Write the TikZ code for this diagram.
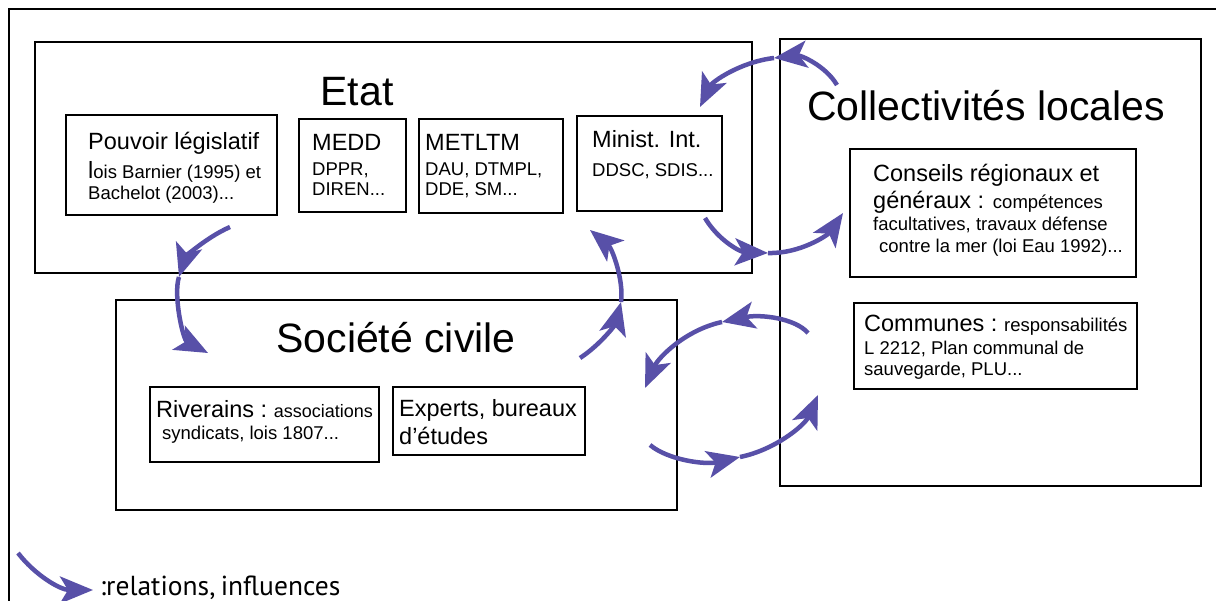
\documentclass[tikz,border=0pt]{standalone}
\usepackage{fontspec}
\setmainfont{Liberation Sans}
\newfontfamily\legendfont{PT Sans}
\usetikzlibrary{arrows.meta}
\definecolor{arrowblue}{RGB}{88,80,168}
\newcommand\myTtl{\fontsize{41}{45}\selectfont}
\newcommand\myHdr{\fontsize{23.5}{27}\selectfont}
\newcommand\mySub{\fontsize{18.5}{22}\selectfont}
\begin{document}
\begin{tikzpicture}[x=1pt,y=-1pt,
  box/.style={draw=black, line width=2pt, rectangle, inner sep=0pt, anchor=north west},
  ln/.style={anchor=base west, inner sep=0pt},
  hdr/.style={ln, font=\myHdr},
  sub/.style={ln, font=\mySub},
  ttl/.style={anchor=base, inner sep=0pt, font=\myTtl},
  rel/.style={draw=arrowblue, line width=4.5pt, -{Stealth[length=33pt,width=27pt,inset=8pt]}},
]
\useasboundingbox (0,0) rectangle (1216,601);
\fill[white] (0,0) rectangle (1216,601);
% outer frame
\draw[line width=2.5pt] (9,601) -- (9,9) -- (1216,9);
% boxes
\node[box, minimum width=717pt, minimum height=231pt] (etat) at (34,41) {};
\node[box, minimum width=211pt, minimum height=100pt] (pouv) at (65,114) {};
\node[box, minimum width=107pt, minimum height=93pt] (medd) at (298,118) {};
\node[box, minimum width=144pt, minimum height=94pt] (metltm) at (418,118) {};
\node[box, minimum width=145pt, minimum height=95pt] (minist) at (576,115) {};
\node[box, minimum width=421pt, minimum height=447pt] (coll) at (779,38) {};
\node[box, minimum width=286pt, minimum height=128pt] (cons) at (849,148) {};
\node[box, minimum width=283pt, minimum height=86pt] (comm) at (853,302) {};
\node[box, minimum width=561pt, minimum height=210pt] (soc) at (115,299) {};
\node[box, minimum width=229pt, minimum height=75pt] (riv) at (149,386) {};
\node[box, minimum width=192pt, minimum height=68pt] (exp) at (392,386) {};
% titles
\node[ttl] (etatT) at (357,106) {Etat};
\node[ttl] (collT) at (986,121) {Collectivités locales};
\node[ttl] (socT) at (396,353) {Société civile};
% Pouvoir
\node[hdr] (pv1) at (88,150) {Pouvoir législatif};
\node[sub] (pv2) at (88,179) {{\myHdr l}ois Barnier (1995) et};
\node[sub] (pv3) at (88,200) {Bachelot (2003)...};
% MEDD
\node[hdr] (md1) at (312,151) {MEDD};
\node[sub] (md2) at (312,176) {DPPR,};
\node[sub] (md3) at (312,196) {DIREN...};
% METLTM
\node[hdr] (mt1) at (425,151) {METLTM};
\node[sub] (mt2) at (425,176) {DAU, DTMPL,};
\node[sub] (mt3) at (425,196) {DDE, SM...};
% Minist
\node[hdr] (mi1) at (592,148) {Minist. Int.};
\node[sub] (mi2) at (592,177) {DDSC, SDIS...};
% Conseils
\node[hdr] (cs1) at (873,182) {Conseils régionaux et};
\node[hdr] (cs2) at (873,209) {généraux : {\mySub compétences}};
\node[sub] (cs3) at (873,231) {facultatives, travaux défense};
\node[sub] (cs4) at (879,253) {contre la mer (loi Eau 1992)...};
% Communes
\node[hdr] (cm1) at (864,332) {Communes :\hspace{-2pt} {\mySub responsabilités}};
\node[sub] (cm2) at (864,355) {L 2212, Plan communal de};
\node[sub] (cm3) at (864,376) {sauvegarde, PLU...};
% Riverains
\node[hdr] (rv1) at (156,418) {Riverains :\hspace{-2pt} {\fontsize{18}{22}\selectfont associations}};
\node[sub] (rv2) at (162,440) {syndicats, lois 1807...};
% Experts
\node[hdr] (ex1) at (399,417) {Experts, bureaux};
\node[hdr] (ex2) at (399,445) {d'études};
% arrow coordinates
\coordinate (a1s) at (230,227); \coordinate (a1m) at (179,277); \coordinate (a1e) at (208,353);
\coordinate (a2s) at (580,358); \coordinate (a2m) at (621,302); \coordinate (a2e) at (590,230);
\coordinate (a3s) at (837,85);  \coordinate (a3m) at (774,58);  \coordinate (a3e) at (700,107);
\coordinate (a4s) at (705,218); \coordinate (a4m) at (768,253); \coordinate (a4e) at (843,213);
\coordinate (a5s) at (808,333); \coordinate (a5m) at (722,322); \coordinate (a5e) at (645,388);
\coordinate (a6s) at (650,445); \coordinate (a6m) at (740,457); \coordinate (a6e) at (818,395);
\coordinate (lgs) at (18,553);  \coordinate (lge) at (93,590);
% arrows
\draw[rel] (a1s) .. controls (205,238) and (185,258) .. (a1m);
\draw[rel] (a1m) .. controls (173,295) and (183,340) .. (a1e);
\draw[rel] (a2s) .. controls (600,345) and (615,325) .. (a2m);
\draw[rel] (a2m) .. controls (624,280) and (612,248) .. (a2e);
\draw[rel] (a3s) .. controls (825,65) and (800,55) .. (a3m);
\draw[rel] (a3m) .. controls (740,62) and (712,82) .. (a3e);
\draw[rel] (a4s) .. controls (718,240) and (740,252) .. (a4m);
\draw[rel] (a4m) .. controls (800,254) and (828,235) .. (a4e);
\draw[rel] (a5s) .. controls (795,318) and (760,314) .. (a5m);
\draw[rel] (a5m) .. controls (685,330) and (658,358) .. (a5e);
\draw[rel] (a6s) .. controls (668,460) and (705,465) .. (a6m);
\draw[rel] (a6m) .. controls (775,450) and (805,425) .. (a6e);
% legend
\draw[rel] (lgs) .. controls (35,575) and (60,590) .. (lge);
\node[anchor=base west, inner sep=0pt, font=\legendfont\fontsize{27.5}{32}\selectfont] (leg) at (100,595) {:relations,\hspace{-2pt} influences};
\end{tikzpicture}
\end{document}
